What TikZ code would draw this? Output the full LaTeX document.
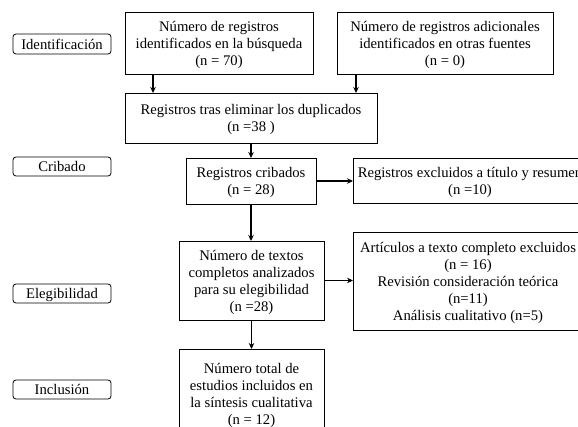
\documentclass[tikz,border=0pt]{standalone}
\usepackage{fontspec}
\setmainfont{Liberation Serif}
\usetikzlibrary{arrows.meta}

\tikzset{
  rectbox/.style={draw=black,fill=white,line width=0.8pt,align=center,
    anchor=north west,inner sep=0pt,outer sep=0pt,text depth=0pt},
  stagebox/.style={rectbox,rounded corners=3pt},
  flowarrow/.style={draw=black,line width=1.6pt,line cap=butt,
    -{Stealth[length=6pt,width=5.5pt]}},
}

\begin{document}
\begin{tikzpicture}[y=1pt, x=1pt,yscale=-1, inner sep=0pt, outer sep=0pt,
  font=\fontsize{14.67}{17}\selectfont]
  \path[use as bounding box] (0,0) rectangle (578,427);
  \clip (0,0) rectangle (578,427);

  % stages
  \path (13,34) node[stagebox,minimum width=98pt,minimum height=20pt]
    (rect201) {Identificación};
  \path (13,157) node[stagebox,minimum width=98pt,minimum height=19pt]
    (rect202) {Cribado};
  \path (13,284) node[stagebox,minimum width=98pt,minimum height=19pt]
    (rect203) {Elegibilidad};
  \path (13,380) node[stagebox,minimum width=98pt,minimum height=19pt]
    (rect204) {Inclusión};

  % boxes
  \path (125,12) node[rectbox,minimum width=188pt,minimum height=62pt]
    (rect101) {Número de registros\\identificados en la búsqueda\\(n = 70)};
  \path (337,12) node[rectbox,minimum width=216pt,minimum height=62pt]
    (rect102) {Número de registros adicionales\\identificados en otras fuentes\\(n = 0)};
  \path (125,93) node[rectbox,minimum width=252pt,minimum height=50pt]
    (rect103) {Registros tras eliminar los duplicados\\(n =38 )};
  \path (186,158) node[rectbox,minimum width=130pt,minimum height=46pt]
    (rect104) {Registros cribados\\(n = 28)};
  \path (353,158) node[rectbox,minimum width=234pt,minimum height=45pt]
    (rect105) {Registros excluidos a título y resumen\\(n =10)};
  \path (179,241) node[rectbox,minimum width=145pt,minimum height=79pt]
    (rect106) {Número de textos\\completos analizados\\para su elegibilidad\\(n =28)};
  \path (353,232) node[rectbox,minimum width=230pt,minimum height=98pt]
    (rect107) {Artículos a texto completo excluidos\\(n = 16)\\Revisión consideración teórica\\(n=11)\\Análisis cualitativo (n=5)};
  \path (179,349) node[rectbox,minimum width=145pt,minimum height=90pt]
    (rect108) {Número total de\\estudios incluidos en\\la síntesis cualitativa\\(n = 12)};

  % arrows
  \path[flowarrow] ([xshift=28pt]rect101.south west) --
    ([xshift=28pt]rect101.south west |- rect103.north);
  \path[flowarrow] ([xshift=19pt]rect102.south west) --
    ([xshift=19pt]rect102.south west |- rect103.north);
  \path[flowarrow] (rect103.south) -- (rect104.north);
  \path[flowarrow] (rect104.south) -- (rect104.south |- rect106.north);
  \path[flowarrow] (rect106.south) -- (rect108.north);
  \path[flowarrow] (rect104.east) -- (rect104.east -| rect105.west);
  \path[flowarrow] (rect106.east) -- (rect106.east -| rect107.west);
\end{tikzpicture}
\end{document}
